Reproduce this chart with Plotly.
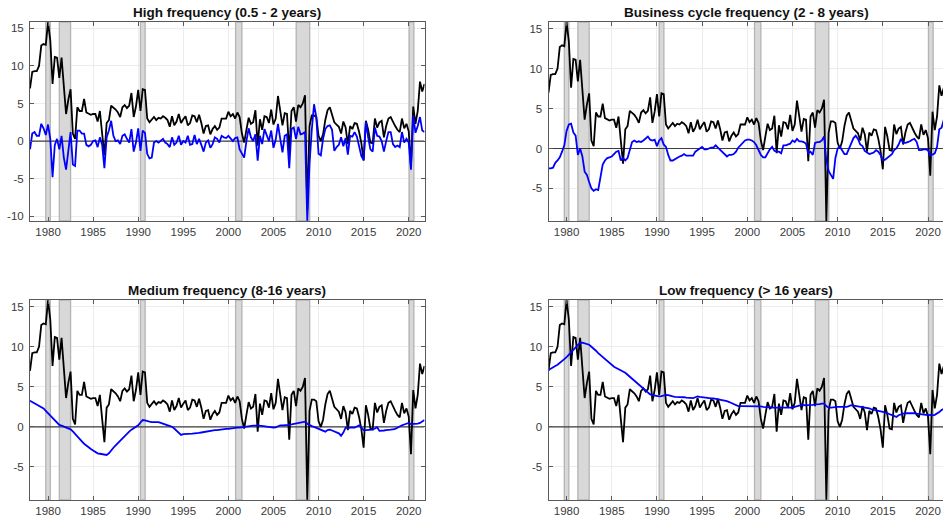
import plotly.graph_objects as go

# Quarterly sample, 1978Q1 - 2021Q4 (decimal years)
start_year = 1978
n_years = 44

# Headline inflation, annualised quarterly rate (%)
inflation = [
    7.0, 9.2, 9.3, 9.3,
    10.0, 12.7, 12.9, 12.8,
    15.8, 13.4, 7.6, 11.2,
    11.1, 8.4, 11.1, 6.9,
    3.6, 5.5, 6.9, 1.0,
    0.3, 4.5, 4.0, 4.0,
    5.6, 3.8, 3.6, 3.5,
    3.6, 3.6, 2.6, 4.0,
    1.0, -1.9, 2.4, 2.8,
    4.7, 4.5, 4.2, 3.8,
    3.2, 4.5, 4.8, 4.4,
    4.7, 6.4, 3.2, 4.6,
    6.8, 4.0, 6.9, 6.8,
    3.0, 2.5, 2.9, 3.2,
    2.8, 3.1, 3.0, 3.3,
    3.1, 2.8, 1.9, 3.3,
    2.1, 2.6, 3.6, 2.4,
    2.9, 3.3, 2.1, 2.4,
    3.4, 3.3, 2.5, 3.5,
    2.4, 1.0, 2.0, 2.1,
    0.9, 1.6, 2.0, 1.5,
    1.8, 3.0, 3.0, 3.0,
    3.9, 3.3, 3.6, 3.0,
    3.8, 3.2, 1.0, -0.2,
    1.5, 3.1, 2.3, 2.5,
    4.1, -0.6, 2.9, 1.5,
    3.3, 3.2, 2.4, 4.2,
    2.2, 3.0, 6.0, 4.3,
    2.1, 3.7, 3.6, -1.6,
    4.0, 4.5, 2.6, 4.8,
    4.5, 5.0, 6.1, -9.1,
    2.0, 3.4, 3.4, 3.2,
    0.7, 0.0, 0.9, 2.8,
    4.1, 4.5, 3.6, 2.5,
    2.2, 1.9, 1.0, 2.6,
    1.8, -0.4, 2.0, 1.6,
    2.4, 2.3, 1.2, -0.3,
    -2.6, 2.7, 1.5, -0.2,
    -0.3, 3.0, 1.8, 2.5,
    2.7, 0.5, 2.0, 3.0,
    3.2, 2.5, 2.0, 1.5,
    1.2, 3.0, 1.7, 2.3,
    1.3, -3.4, 4.6, 2.3,
    4.0, 7.9, 6.6, 7.6,
]

# High-frequency component (0.5 - 2 years)
high_freq = [
    -1.1, 1.0, 1.2, 0.7,
    0.7, 2.3, 1.7, 0.8,
    2.2, 0.3, -4.8, -0.5,
    0.3, -1.1, 0.7, -2.2,
    -3.8, -1.0, 1.2, -3.1,
    -3.3, 1.4, 1.4, 1.0,
    1.0, -0.5, -0.7, -0.5,
    0.0, 0.1, -0.8, 0.5,
    -0.5, -3.6, 0.5, 1.4,
    2.7, 0.7, 0.0, 0.1,
    -0.4, 0.7, 0.9, 0.3,
    -0.2, 1.6, -1.4, -0.2,
    1.7, -1.3, 1.4, 1.1,
    -1.7, -2.3, -2.2, -0.2,
    0.0, -0.2, 0.0, 0.3,
    -0.2, -0.4, -0.8, 0.5,
    -0.5, -0.2, 0.7, -0.5,
    0.0, -0.2, 0.7, -0.5,
    -0.4, 0.8, -0.4, 0.3,
    -0.5, -1.4, -0.2, 0.1,
    -0.9, -0.4, 0.5, 0.3,
    -0.2, 0.7, 0.5, 0.4,
    0.7, 0.3, 0.0, 0.4,
    0.5, -1.1, -1.7, -2.2,
    0.0, 1.7, 0.5, 0.0,
    0.9, -2.6, 0.7, -0.4,
    1.6, 0.7, 0.0, 1.4,
    -0.9, 0.2, 2.3, 0.3,
    -1.5, 0.7, 0.9, -3.6,
    1.6, 1.8, 0.3, 1.9,
    0.9, 1.0, 1.2, -10.6,
    -3.0, 1.5, 4.9, 3.2,
    -1.7, -1.9, 0.3, 1.6,
    2.0, 2.1, 1.5, -1.3,
    -0.8, -0.5, 0.5, -0.7,
    0.4, -1.8, 0.7, 0.6,
    1.2, 0.6, -0.8, -2.0,
    -2.5, 2.6, 0.5, -1.1,
    -1.4, 1.8, 0.7, 0.6,
    0.0, -1.4, 0.0, 1.2,
    1.2, -0.4, -0.8, -0.6,
    -0.8, 1.2, -0.2, 0.3,
    -0.2, -3.8, 3.4, 1.1,
    2.0, 3.2, 1.4, 1.2,
]

# Business-cycle component (2 - 8 years)
business_cycle = [
    -2.5, -2.5, -2.4, -1.8,
    -1.5, -1.1, -0.4, 0.4,
    2.2, 3.0, 3.1, 2.0,
    1.6, -0.8, 0.0, -1.0,
    -2.9, -3.3, -4.2, -5.0,
    -5.3, -5.1, -5.2, -3.8,
    -2.0, -1.5, -1.2, -1.1,
    -1.0, -0.7, -0.4, -0.3,
    -1.5, -1.2, -1.5, -1.2,
    0.0, 0.8, 1.0, 0.8,
    0.9, 0.8, 1.0, 1.2,
    1.5, 1.1, 1.0, 1.1,
    0.3, 1.0, 1.3, 0.5,
    0.2, -0.8, -1.5, -1.5,
    -1.3, -1.2, -1.0, -0.9,
    -0.7, -0.9, -0.9, -0.9,
    -0.9, -0.4, -0.2, 0.1,
    0.2, -0.1, -0.1, 0.0,
    0.1, 0.1, 0.4, 0.1,
    -0.2, -0.5, -0.8, -1.0,
    -0.8, -0.8, -0.7, -0.4,
    0.1, 0.4, 0.8, 1.0,
    1.1, 1.1, 1.0, 0.8,
    0.4, -0.2, -0.8, -1.1,
    -1.1, -0.6, -0.1, 0.2,
    -0.3, -0.4, -0.4, -0.6,
    0.4, 0.4, 0.5, 0.6,
    1.0, 0.8, 1.2, 0.9,
    0.9, 0.8, 0.6, -0.6,
    -0.4, -0.8, 0.7, 0.8,
    0.8, 1.0, 1.5, -1.5,
    -2.8, -3.4, -3.8, -1.2,
    0.0, 0.2, -0.3, -0.7,
    -0.7, 0.0, 0.8, 1.3,
    1.6, 1.2, 0.5, 0.3,
    -0.3, -0.5, -0.7, -0.6,
    -0.5, -0.2, -0.4, -0.8,
    -1.5, -1.4, -1.2, -1.0,
    -0.7, -0.2, 0.0, 0.5,
    1.2, 0.7, 0.7, 0.8,
    0.9, 1.1, 1.2, 0.8,
    -0.2, -0.2, -0.1, -0.1,
    -0.2, -0.9, -0.7, -0.6,
    0.2, 2.4, 2.6, 3.6,
]

# Medium-frequency component (8 - 16 years)
medium_freq = [
    3.25, 3.1, 2.95, 2.8,
    2.6, 2.45, 2.3, 2.0,
    1.7, 1.45, 1.15, 0.8,
    0.45, 0.25, 0.15, 0.05,
    -0.05, -0.15, -0.3, -0.55,
    -0.9, -1.2, -1.5, -1.8,
    -2.1, -2.35, -2.55, -2.75,
    -2.95, -3.15, -3.3, -3.35,
    -3.4, -3.4, -3.5, -3.3,
    -2.9, -2.6, -2.3, -2.0,
    -1.7, -1.45, -1.15, -0.85,
    -0.6, -0.35, -0.15, 0.05,
    0.2, 0.55, 0.85, 0.8,
    0.7, 0.65, 0.6, 0.6,
    0.55, 0.6, 0.5, 0.4,
    0.3, 0.15, 0.1, 0.0,
    -0.2, -0.45, -0.75, -1.0,
    -0.9, -0.9, -0.85, -0.85,
    -0.85, -0.8, -0.8, -0.75,
    -0.7, -0.65, -0.6, -0.55,
    -0.45, -0.45, -0.4, -0.4,
    -0.35, -0.3, -0.3, -0.25,
    -0.25, -0.2, -0.2, -0.15,
    -0.1, -0.1, -0.05, 0.0,
    0.0, 0.05, 0.1, 0.15,
    0.15, 0.2, 0.15, 0.1,
    0.05, 0.0, 0.0, -0.05,
    -0.1, -0.05, 0.1, 0.2,
    0.2, 0.2, 0.25, 0.25,
    0.3, 0.35, 0.4, 0.45,
    0.5, 0.55, 0.65, 0.4,
    0.2, 0.1, 0.0, -0.1,
    -0.2, -0.3, -0.45, -0.6,
    -0.4, -0.35, -0.45, -0.55,
    -0.65, -0.8, -1.1, -0.7,
    -0.1, -0.15, -0.1, -0.1,
    -0.1, 0.05, 0.2, -0.1,
    -0.4, -0.4, -0.4, -0.35,
    -0.35, -0.2, -0.05, -0.5,
    -0.5, -0.45, -0.4, -0.4,
    -0.35, -0.3, -0.25, -0.1,
    0.1, 0.2, 0.3, 0.4,
    0.5, 0.35, 0.35, 0.35,
    0.4, 0.5, 0.7, 0.85,
]

# Low-frequency component (> 16 years)
low_freq = [
    7.1, 7.3, 7.45, 7.6,
    7.75, 7.95, 8.2, 8.45,
    8.7, 9.0, 9.3, 9.55,
    9.85, 10.2, 10.5, 10.5,
    10.4, 10.35, 10.25, 10.0,
    9.8, 9.5, 9.2, 8.95,
    8.7, 8.45, 8.2, 7.95,
    7.7, 7.5, 7.35, 7.2,
    7.1, 6.95, 6.75, 6.5,
    6.25, 6.0, 5.75, 5.5,
    5.2, 4.95, 4.7, 4.45,
    4.2, 4.05, 3.95, 3.9,
    3.85, 3.8, 3.85, 3.95,
    4.0, 3.95, 3.85, 3.8,
    3.75, 3.75, 3.7, 3.7,
    3.7, 3.65, 3.65, 3.6,
    3.6, 3.7, 3.8, 3.75,
    3.7, 3.65, 3.6, 3.6,
    3.55, 3.55, 3.5, 3.45,
    3.4, 3.35, 3.25, 3.2,
    3.1, 3.0, 2.85, 2.7,
    2.6, 2.6, 2.6, 2.6,
    2.6, 2.6, 2.6, 2.6,
    2.6, 2.55, 2.55, 2.5,
    2.5, 2.45, 2.45, 2.4,
    2.4, 2.4, 2.4, 2.4,
    2.4, 2.4, 2.4, 2.4,
    2.4, 2.5, 2.6, 2.65,
    2.7, 2.7, 2.7, 2.7,
    2.7, 2.75, 2.8, 2.8,
    2.85, 2.9, 2.9, 2.6,
    2.4, 2.4, 2.45, 2.5,
    2.5, 2.5, 2.5, 2.5,
    2.5, 2.6, 2.7, 2.65,
    2.6, 2.6, 2.55, 2.5,
    2.4, 2.35, 2.3, 2.2,
    2.1, 2.05, 2.0, 1.95,
    1.9, 1.8, 1.7, 1.6,
    1.5, 1.35, 1.25, 1.45,
    1.6, 1.65, 1.7, 1.7,
    1.75, 1.75, 1.7, 1.65,
    1.6, 1.6, 1.55, 1.5,
    1.5, 1.45, 1.45, 1.5,
    1.65, 1.85, 2.1, 2.25,
]

# Recession periods (decimal-year start, end)
recessions = [
    (1979.75, 1980.25),
    (1981.25, 1982.5),
    (1990.25, 1990.77),
    (2000.8, 2001.5),
    (2007.52, 2009.02),
    (2020.05, 2020.57),
]

panel_titles = [
    "High frequency (0.5 - 2 years)",
    "Business cycle frequency (2 - 8 years)",
    "Medium frequency (8-16 years)",
    "Low frequency (> 16 years)",
]
components = [high_freq, business_cycle, medium_freq, low_freq]

x_ticks = [1980, 1985, 1990, 1995, 2000, 2005, 2010, 2015, 2020]

dates = [start_year + q / 4 for q in range(n_years * 4)]

W, H = 943, 523
# plot-area boxes in pixels: (left, right, top, bottom)
boxes = [
    (30, 424.5, 22, 221),
    (548.5, 943, 22, 221),
    (30, 424.5, 300, 500),
    (548.5, 943, 300, 500),
]
x_ranges = [
    [1978, 2021.75],
    [1978, 2021.66],
    [1978, 2021.75],
    [1978, 2021.66],
]
y_ranges = [
    [-10.63, 15.84],
    [-9.07, 15.82],
    [-9.12, 15.83],
    [-9.12, 15.83],
]
y_ticks = [
    [-10, -5, 0, 5, 10, 15],
    [-5, 0, 5, 10, 15],
    [-5, 0, 5, 10, 15],
    [-5, 0, 5, 10, 15],
]

AXIS_COL = "#5a5a5a"
TICK_FONT = dict(family="Liberation Sans, Arial, sans-serif", size=11.5, color="#3a3a3a")

fig = go.Figure()
layout = dict(
    width=W,
    height=H,
    margin=dict(l=0, r=0, t=0, b=0),
    paper_bgcolor="white",
    plot_bgcolor="white",
    showlegend=False,
    annotations=[],
)

for i in range(4):
    n = i + 1
    sfx = "" if n == 1 else str(n)
    left, right, top, bottom = boxes[i]
    right_col = i % 2 == 1
    y_lo, y_hi = y_ranges[i]

    layout["xaxis" + sfx] = dict(
        domain=[left / W, min(right / W, 1.0)],
        range=x_ranges[i],
        anchor="y" + sfx,
        tickmode="array",
        tickvals=x_ticks,
        ticktext=[str(t) for t in x_ticks],
        ticks="inside",
        ticklen=4,
        tickcolor=AXIS_COL,
        showline=True,
        linecolor=AXIS_COL,
        linewidth=1,
        mirror="ticks",
        showgrid=True,
        gridcolor="#ececec",
        gridwidth=1,
        zeroline=False,
        tickfont=TICK_FONT,
        fixedrange=True,
    )
    layout["yaxis" + sfx] = dict(
        domain=[1 - bottom / H, 1 - top / H],
        range=[y_lo, y_hi],
        anchor="x" + sfx,
        tickmode="array",
        tickvals=y_ticks[i],
        ticktext=[str(t) for t in y_ticks[i]],
        ticks="inside",
        ticklen=4,
        tickcolor=AXIS_COL,
        showline=True,
        linecolor=AXIS_COL,
        linewidth=1,
        mirror=False if right_col else "ticks",
        showgrid=True,
        gridcolor="#ececec",
        gridwidth=1,
        zeroline=False,
        tickfont=TICK_FONT,
        ticklabelstandoff=3,
        fixedrange=True,
    )

    # recession shading as filled polygons spanning the full y range
    bx, by = [], []
    for r0, r1 in recessions:
        bx += [r0, r1, r1, r0, r0, None]
        by += [y_lo, y_lo, y_hi, y_hi, y_lo, None]
    fig.add_trace(go.Scatter(
        x=bx, y=by, mode="lines", fill="toself",
        fillcolor="#d8d8d8",
        line=dict(color="#b4b4b4", width=1.3),
        xaxis="x" + sfx, yaxis="y" + sfx,
        hoverinfo="skip",
    ))

    # zero reference line
    fig.add_trace(go.Scatter(
        x=[dates[0], dates[-1]], y=[0, 0], mode="lines",
        line=dict(color="#3c3c3c", width=1.2),
        xaxis="x" + sfx, yaxis="y" + sfx,
        hoverinfo="skip",
    ))

    # panel title
    layout["annotations"].append(dict(
        text="<b>" + panel_titles[i] + "</b>",
        xref="paper", yref="paper",
        x=((left + (right if not right_col else 944)) / 2) / W,
        y=1 - (top - 9.5) / H,
        xanchor="center", yanchor="middle",
        showarrow=False,
        font=dict(family="Liberation Sans, Arial, sans-serif", size=13.5, color="#111111"),
    ))

    fig.add_trace(go.Scatter(
        x=dates, y=inflation, mode="lines",
        line=dict(color="black", width=1.8),
        xaxis="x" + sfx, yaxis="y" + sfx,
        hoverinfo="skip",
    ))
    fig.add_trace(go.Scatter(
        x=dates, y=components[i], mode="lines",
        line=dict(color="#0000ff", width=1.8),
        xaxis="x" + sfx, yaxis="y" + sfx,
        hoverinfo="skip",
    ))

fig.update_layout(**layout)
fig.write_html("out.html", config={"displayModeBar": False})
